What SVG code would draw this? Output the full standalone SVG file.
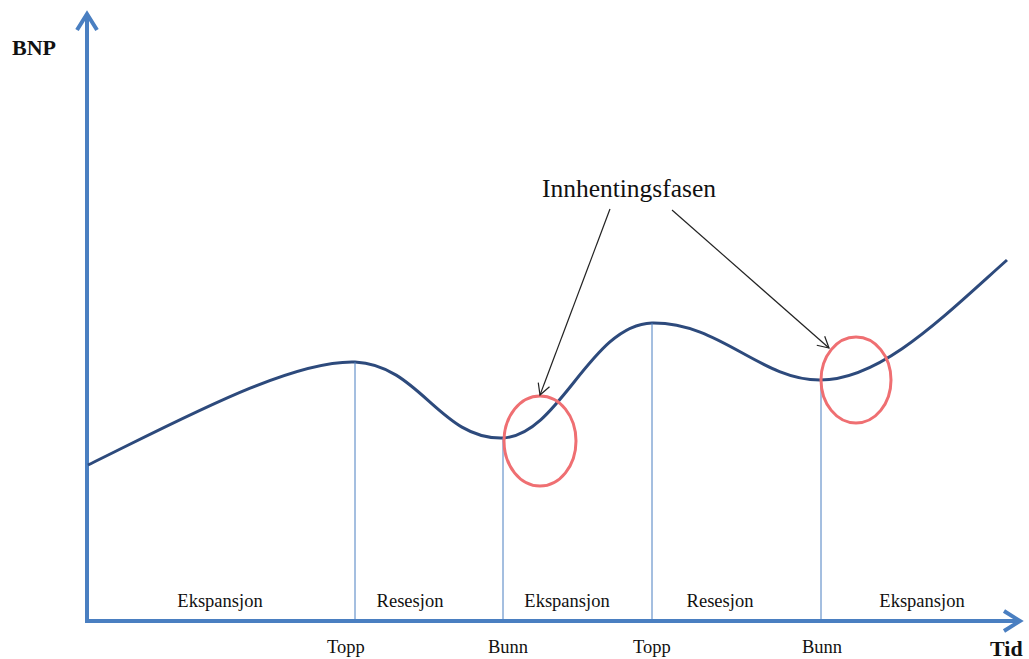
<svg xmlns="http://www.w3.org/2000/svg" width="1029" height="659" viewBox="0 0 1029 659">
<style>
.lbl{font-family:"Liberation Serif",serif;font-size:18.5px;fill:#111;text-anchor:middle}
.bold{font-family:"Liberation Serif",serif;font-size:22px;font-weight:bold;fill:#111}
.vl{stroke:#4a7fc1;stroke-width:1;fill:none}
.ax{stroke:#4a7fc1;stroke-width:4;fill:none}
.ring{stroke:#ef6f72;stroke-width:3;fill:none}
.pt{stroke:#222;stroke-width:1.2;fill:none}
</style>
<defs>
<marker id="axh" markerWidth="6" markerHeight="6" refX="4" refY="3" orient="auto" markerUnits="strokeWidth">
<path d="M0.5,0.5 L4.5,3 L0.5,5.5" fill="none" stroke="#4a7fc1" stroke-width="1"/>
</marker>
<marker id="ah" markerWidth="14" markerHeight="14" refX="12" refY="7" orient="auto" markerUnits="userSpaceOnUse">
<path d="M1,1 L12,7 L1,13" fill="none" stroke="#222" stroke-width="1.2"/>
</marker>
</defs>
<rect width="1029" height="659" fill="#fff"/>
<g id="axes">
<line class="ax" x1="87" y1="623" x2="87" y2="16" marker-end="url(#axh)"/>
<line class="ax" x1="85" y1="621" x2="1018" y2="621" marker-end="url(#axh)"/>
<text class="bold" x="12" y="55">BNP</text>
<text class="bold" x="990" y="656">Tid</text>
</g>
<g id="curve">
<path d="M88,465 C180,420 290,360 355,362 C420,365 440,440 503,438 C560,435 590,325 652,323 C720,322 760,380 820,380 C880,380 940,320 1007,260" stroke="#2d4a7c" stroke-width="3" fill="none"/>
</g>
<g id="dividers">
<line class="vl" x1="355" y1="362" x2="355" y2="620"/>
<line class="vl" x1="503" y1="438" x2="503" y2="620"/>
<line class="vl" x1="652" y1="323" x2="652" y2="620"/>
<line class="vl" x1="821" y1="380" x2="821" y2="620"/>
</g>
<g id="phases">
<text class="lbl" x="220" y="607">Ekspansjon</text>
<text class="lbl" x="410" y="607">Resesjon</text>
<text class="lbl" x="567" y="607">Ekspansjon</text>
<text class="lbl" x="720" y="607">Resesjon</text>
<text class="lbl" x="922" y="607">Ekspansjon</text>
</g>
<g id="points">
<text class="lbl" x="346" y="653">Topp</text>
<text class="lbl" x="508" y="653">Bunn</text>
<text class="lbl" x="652" y="653">Topp</text>
<text class="lbl" x="822" y="653">Bunn</text>
</g>
<g id="rings">
<ellipse class="ring" cx="540" cy="441" rx="36" ry="45"/>
<ellipse class="ring" cx="856" cy="380" rx="35" ry="43"/>
</g>
<g id="annotation">
<text x="629" y="197" font-family="Liberation Serif,serif" font-size="25.5" fill="#111" text-anchor="middle">Innhentingsfasen</text>
</g>
<g id="connectors">
<line class="pt" x1="610" y1="209" x2="540" y2="395" marker-end="url(#ah)"/>
<line class="pt" x1="672" y1="210" x2="829" y2="348" marker-end="url(#ah)"/>
</g>
</svg>
